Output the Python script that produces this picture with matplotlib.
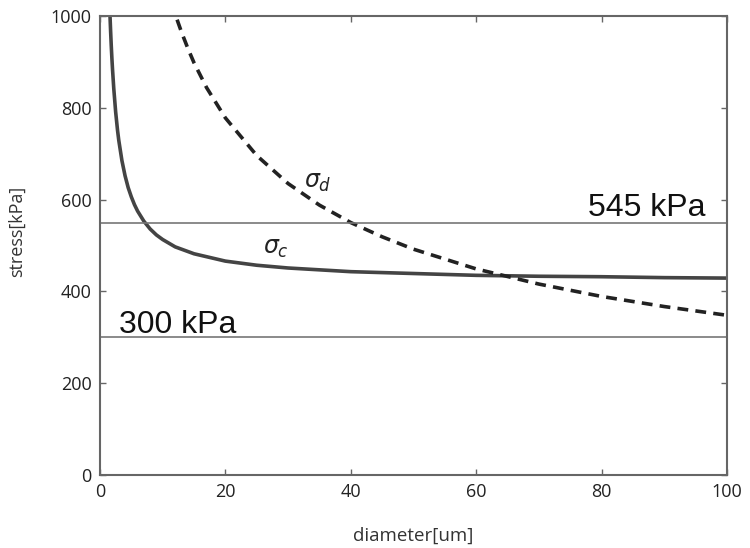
import matplotlib.pyplot as plt

# values
dia_c = [1.6, 1.7, 1.8, 1.9, 2, 2.2, 2.5, 2.8, 3, 3.5, 4, 4.5, 5, 5.5, 6, 7, 8, 9, 10, 12, 15, 20, 25, 30, 40, 50, 60, 70, 80, 90, 100]
sigma_c = [1000, 966, 935, 908, 884, 842, 791, 751, 729, 685, 652, 626, 606, 589, 575, 553, 536, 523, 513, 497, 482, 466, 457, 451, 443, 439, 435, 433, 432, 430, 429]

dia_d = [12.3, 13, 14, 15, 17, 20, 25, 30, 35, 40, 45, 50, 60, 70, 80, 90, 100]
sigma_d = [992, 965, 930, 898, 844, 778, 696, 635, 588, 550, 519, 492, 449, 416, 389, 367, 348]

limits = [550, 300]
limit_labels = ["545 kPa", "300 kPa"]

plt.rcParams['font.family'] = ['Open Sans', 'DejaVu Sans']

fig = plt.figure(figsize=(7.5, 5.48), dpi=100)
ax = fig.add_axes([0.1333, 0.1332, 0.836, 0.8376])

ax.plot(dia_c, sigma_c, color="#444444", lw=2.6, solid_joinstyle="round")
ax.plot(dia_d, sigma_d, color="#222222", lw=2.6, dashes=(3, 2))

for y in limits:
    ax.axhline(y, color="#777777", lw=1.2)

ax.text(96.5, 565, limit_labels[0], fontsize=23, ha="right", va="baseline",
        family=["Liberation Sans"], color="#111111")
ax.text(3, 309, limit_labels[1], fontsize=23, ha="left", va="baseline",
        family=["Liberation Sans"], color="#111111")

ax.text(32.5, 625, r"$\sigma_d$", fontsize=17, color="#222222")
ax.text(26, 482, r"$\sigma_c$", fontsize=17, color="#222222")

ax.set_xlim(0, 100)
ax.set_ylim(0, 1000)
ax.set_xticks([0, 20, 40, 60, 80, 100])
ax.set_yticks([0, 200, 400, 600, 800, 1000])
ax.tick_params(direction="in", length=4, width=1, color="#666666",
               top=True, right=True, labelsize=13, labelcolor="#222222", pad=6)
for s in ax.spines.values():
    s.set_color("#666666")
    s.set_linewidth(1.5)

ax.set_xlabel("diameter[um]", fontsize=13.5, color="#333333", labelpad=18)
ax.set_ylabel("stress[kPa]", fontsize=13, color="#333333", labelpad=16)
ax.yaxis.set_label_coords(-0.118, 0.53)

plt.savefig("out.png", dpi=100)
